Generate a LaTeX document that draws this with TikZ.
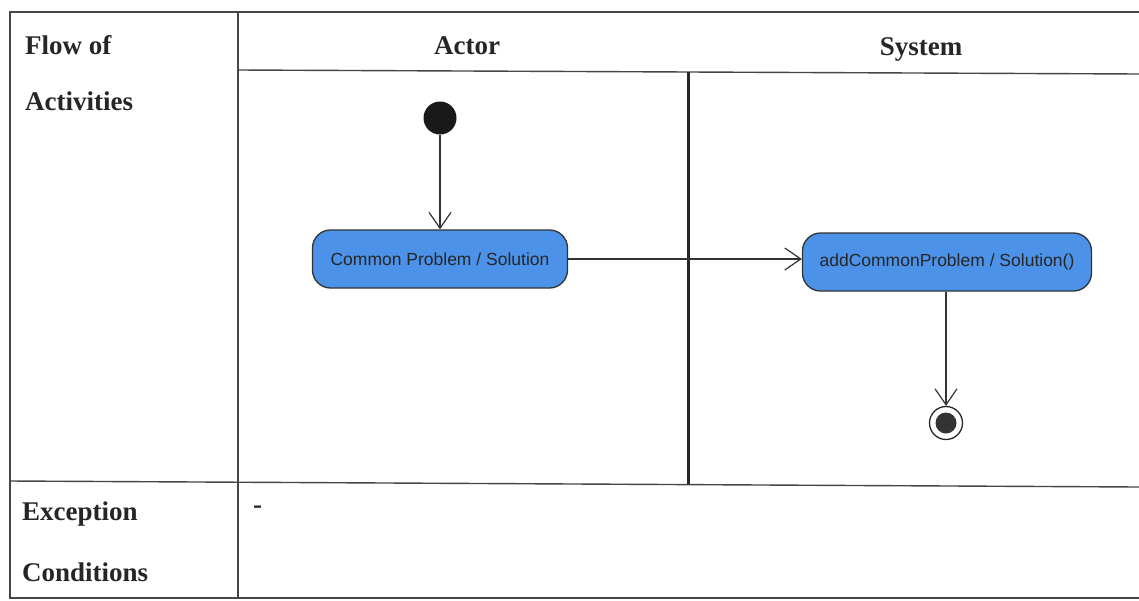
\documentclass[tikz,border=0pt]{standalone}
\usepackage{fontspec}
\setmainfont{Liberation Serif}
\newfontfamily\nodefont{Liberation Sans}
\usetikzlibrary{arrows.meta}
\definecolor{actblue}{RGB}{76,146,232}
\definecolor{tabline}{RGB}{70,70,70}
\tikzset{
  tab/.style={draw=tabline, line width=1.4pt},
  lane/.style={draw=black!85, line width=3pt},
  head/.style={font=\fontsize{27}{30}\selectfont\bfseries, text=black!85, inner sep=0pt},
  lbl/.style={font=\fontsize{27}{30}\selectfont\bfseries, text=black!85, anchor=west, inner sep=0pt},
  activity/.style={draw=black!80, line width=1.3pt, fill=actblue, rounded corners=18pt,
     font=\nodefont\fontsize{17.5}{19}\selectfont, text=black!85, inner sep=0pt},
  flow/.style={draw=black!80, line width=1.2pt, -{Straight Barb[length=16pt,width=22pt,line width=1.2pt]}},
}
\begin{document}
\begin{tikzpicture}[x=1pt,y=-1pt]
\useasboundingbox (0,0) rectangle (1139,600);
\fill[white] (0,0) rectangle (1139,600);
% table
\draw[tab] (1139,12) -- (10,12) -- (10,598) -- (1139,598);
\draw[tab] (238,12) -- (238,598);
\draw[tab] (238,70) -- (1139,74);
\draw[tab] (10,481) -- (1139,487);
\draw[lane] (688,72) -- (688,484);
% labels
\node[lbl] (l1) at (25,45) {Flow of};
\node[lbl] (l2) at (25,101) {Activities};
\node[lbl] (l3) at (22,514) {Exception};
\node[lbl] (l4) at (22,572) {Conditions};
\node[head] (actor) at (467,46) {Actor};
\node[head] (system) at (921,49) {System};
\node[lbl] (dash) at (253,510) {-};
% diagram
\node[circle, fill=black!90, minimum size=33pt, inner sep=0pt] (start) at (440,118) {};
\node[activity, minimum width=255pt, minimum height=58pt] (a1) at (440,259) {Common Problem / Solution};
\node[activity, minimum width=289pt, minimum height=58pt] (a2) at (947,262) {addCommonProblem / Solution()};
\node[circle, draw=black!85, line width=1.3pt, minimum size=33pt, inner sep=0pt, fill=white] (end) at (946,423) {};
\node[circle, fill=black!80, minimum size=21pt, inner sep=0pt] (endin) at (end) {};
\draw[flow] (start) -- (a1);
\draw[flow] (a1.east) -- (a1.east -| a2.west);
\draw[flow] (a2.south -| end) -- (end);
\end{tikzpicture}
\end{document}
